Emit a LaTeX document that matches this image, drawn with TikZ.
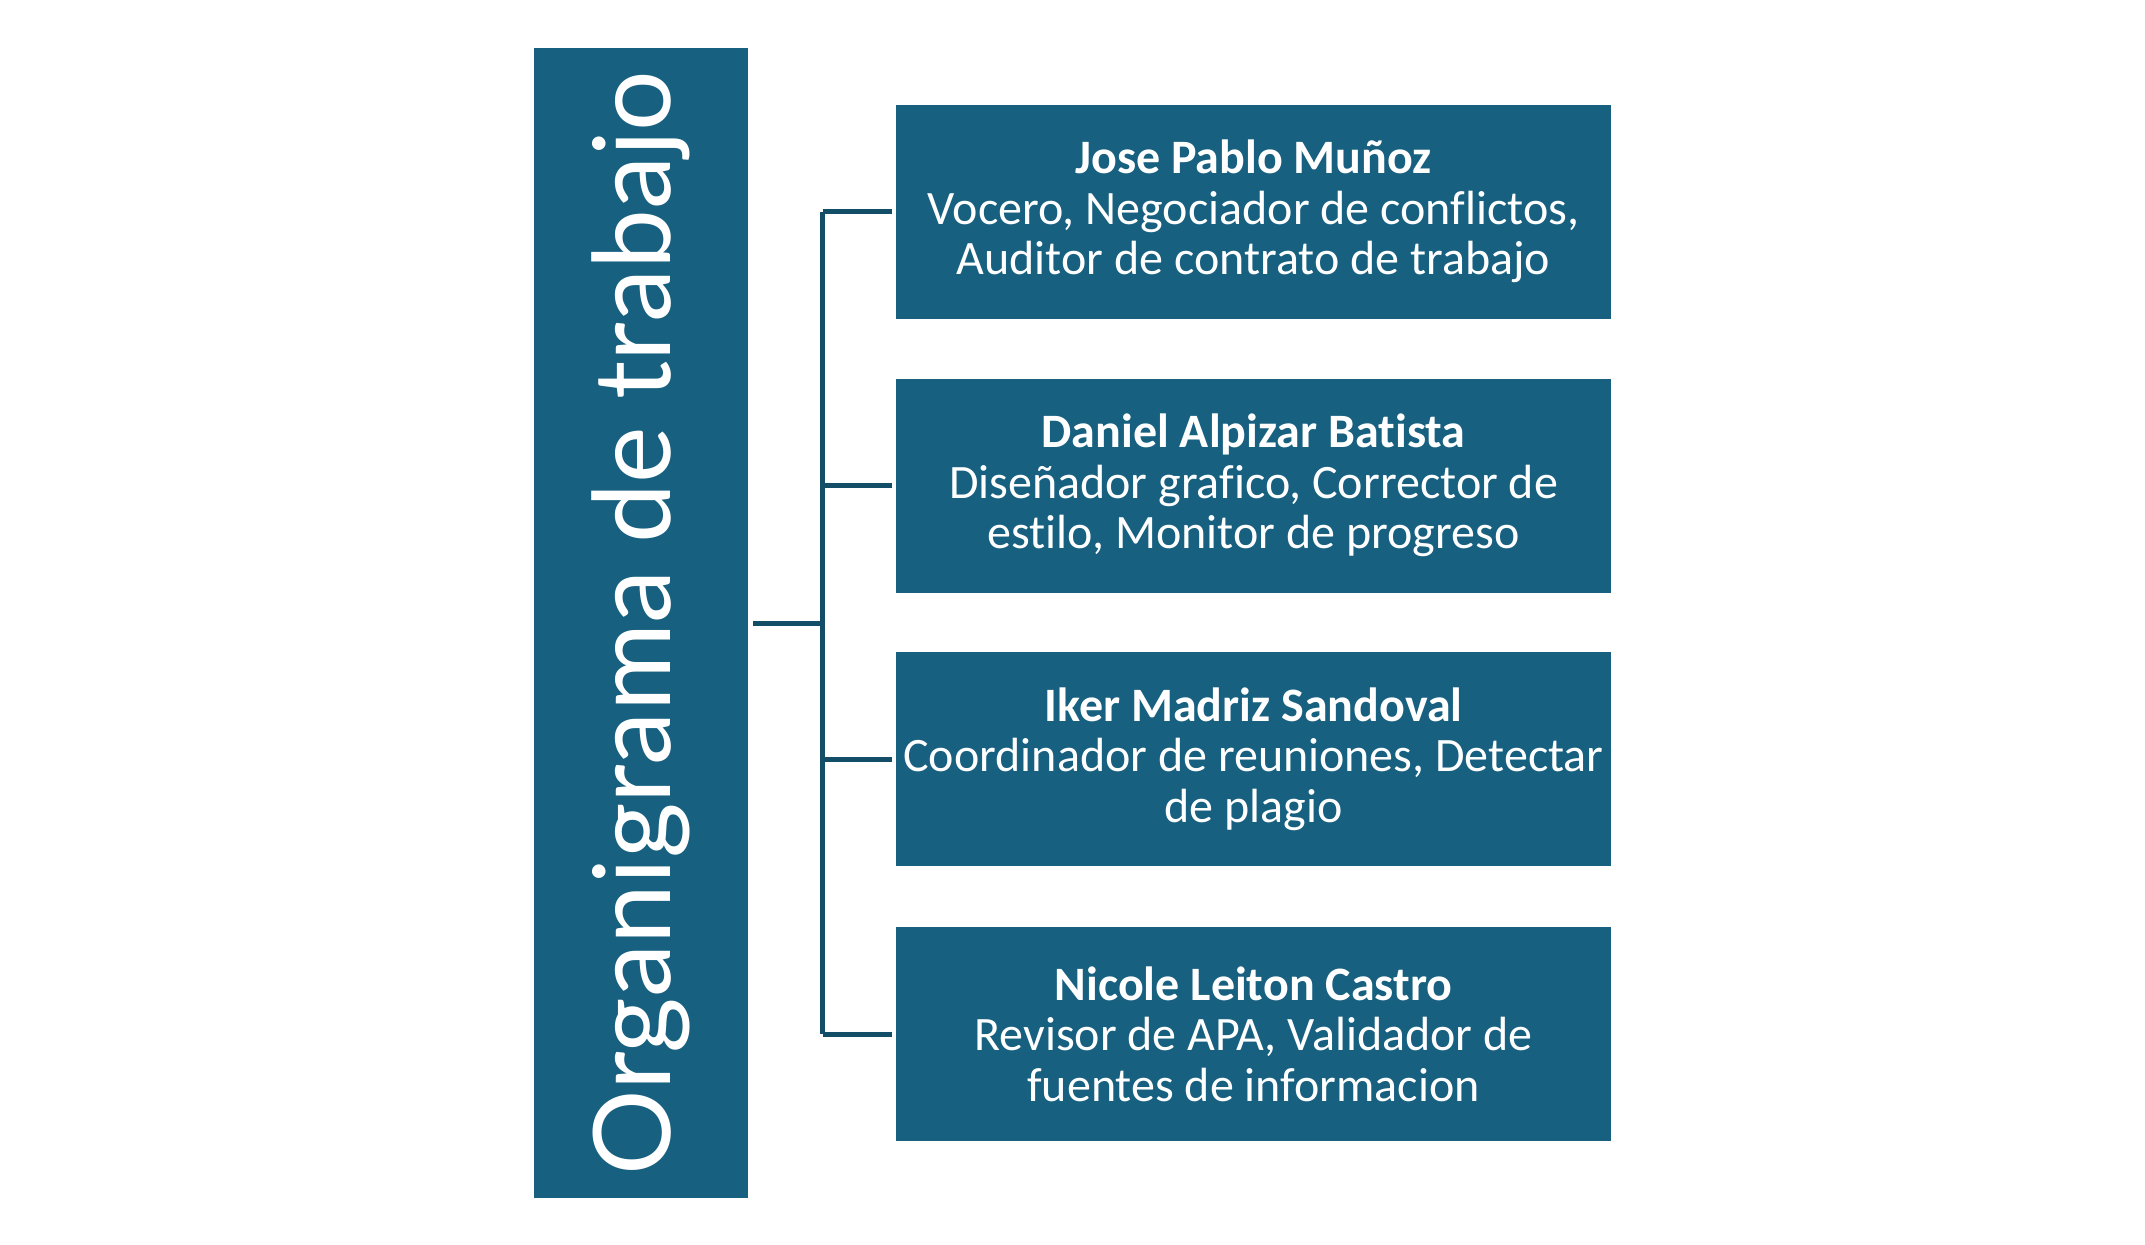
\documentclass[tikz,border=0pt]{standalone}
\usepackage{fontspec}
\setmainfont{Carlito}[Ligatures=NoCommon]
\newfontfamily\titlefont{Lato}
\usepackage{tikz}

\definecolor{boxblue}{RGB}{23,96,128}
\definecolor{linkblue}{RGB}{19,78,104}

\begin{document}
\begin{tikzpicture}[x=1pt,y=-1pt,
	member/.style={shape=rectangle,fill=boxblue,text=white,inner sep=0pt,
		minimum width=715pt,minimum height=214pt,align=center,
		font=\fontsize{48}{50.6}\selectfont},
	link/.style={draw=linkblue,line width=5pt}]
	
	\useasboundingbox (0,0) rectangle (2145,1245);
	
	\node[shape=rectangle,fill=boxblue,text=white,inner sep=0pt,
		minimum width=1150pt,minimum height=214pt,rotate=90,
		font=\titlefont\fontsize{107}{130}\selectfont] (title) at (641, 623) {Organigrama de trabajo};
	
	\node[member] (p1) at (1253.5, 211.5) {\textbf{Jose Pablo Muñoz}\\Vocero, Negociador de conflictos,\\Auditor de contrato de trabajo};
	\node[member] (p2) at (1253.5, 485.5) {\textbf{Daniel Alpizar Batista}\\Diseñador grafico, Corrector de\\estilo, Monitor de progreso};
	\node[member] (p3) at (1253.5, 759)   {\textbf{Iker Madriz Sandoval}\\Coordinador de reuniones, Detectar\\de plagio};
	\node[member] (p4) at (1253.5, 1034)  {\textbf{Nicole Leiton Castro}\\Revisor de APA, Validador de\\fuentes de informacion};
	
	\coordinate (t1) at (822.5, 211.5);
	\coordinate (t4) at (822.5, 1034);
	
	\path[link] (t1) edge (t4);
	\path[link,shorten <=5pt] (title.south) edge (t1 |- title.south);
	\path[link,shorten >=4pt] (t1) edge (p1.west);
	\path[link,shorten >=4pt] (t1 |- p2.west) edge (p2.west);
	\path[link,shorten >=4pt] (t1 |- p3.west) edge (p3.west);
	\path[link,shorten >=4pt] (t4) edge (p4.west);
	
\end{tikzpicture}
\end{document}
